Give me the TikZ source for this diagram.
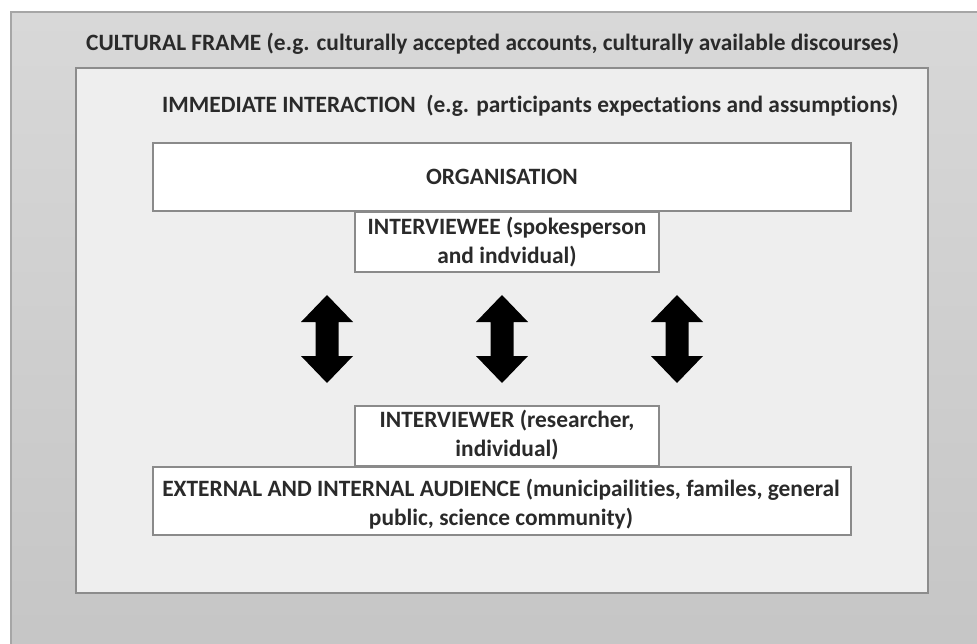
\documentclass[tikz,border=0pt]{standalone}
\usepackage{fontspec}
\setmainfont[Ligatures=NoCommon]{Carlito}
\definecolor{txt}{HTML}{2A2A2A}
\definecolor{outerfill}{HTML}{D6D6D6}
\definecolor{outerline}{HTML}{A6A6A6}
\definecolor{innerfill}{HTML}{EEEEEE}
\definecolor{innerline}{HTML}{8C8C8C}
\definecolor{boxline}{HTML}{8A8A8A}
\tikzset{
  lbl/.style={text=txt, font=\bfseries\fontsize{23.4}{28.5}\selectfont, inner sep=0pt, align=center},
  whitebox/.style={fill=white, draw=boxline, line width=1.2pt},
  bigarrow/.style={fill=black, draw=none}
}
\begin{document}
\begin{tikzpicture}[x=1pt,y=-1pt]
\useasboundingbox (0,0) rectangle (977,644);
\clip (0,0) rectangle (977,644);
\fill[white] (0,0) rectangle (977,644);
% outer cultural frame
\shade[top color=outerfill!95!white, bottom color=outerfill!92!black] (11,12) rectangle (1000,670);
\draw[outerline, line width=2pt] (1000,12) -- (11,12) -- (11,670);
% inner interaction frame
\draw[fill=innerfill, draw=innerline, line width=1.4pt] (76,68) rectangle (928,593);
\node[lbl, anchor=west] (cultural) at (86,44) {CULTURAL FRAME (e.g. culturally accepted accounts, culturally available discourses)};
\node[lbl, anchor=west] (immediate) at (162,106) {IMMEDIATE INTERACTION\ \ (e.g. participants expectations and assumptions)};
% organisation
\draw[whitebox] (153,143) rectangle (851,211);
\node[lbl] (org) at (502,177) {ORGANISATION};
\draw[whitebox] (355,212) rectangle (659,272);
\node[lbl] (interviewee) at (507,242) {INTERVIEWEE (spokesperson\\and indvidual)};
% audience
\draw[whitebox] (355,406) rectangle (659,466);
\node[lbl] (interviewer) at (507,435) {INTERVIEWER (researcher,\\individual)};
\draw[whitebox] (153,467) rectangle (851,535);
\node[lbl] (audience) at (501,504) {EXTERNAL AND INTERNAL AUDIENCE (municipailities, familes, general\\public, science community)};
% double arrows
\foreach \cx in {327,502,677}{
  \fill[bigarrow] (\cx,295) -- (\cx+26,322) -- (\cx+11.5,322) -- (\cx+11.5,356) -- (\cx+26,356)
    -- (\cx,383) -- (\cx-26,356) -- (\cx-11.5,356) -- (\cx-11.5,322) -- (\cx-26,322) -- cycle;
}
\end{tikzpicture}
\end{document}
